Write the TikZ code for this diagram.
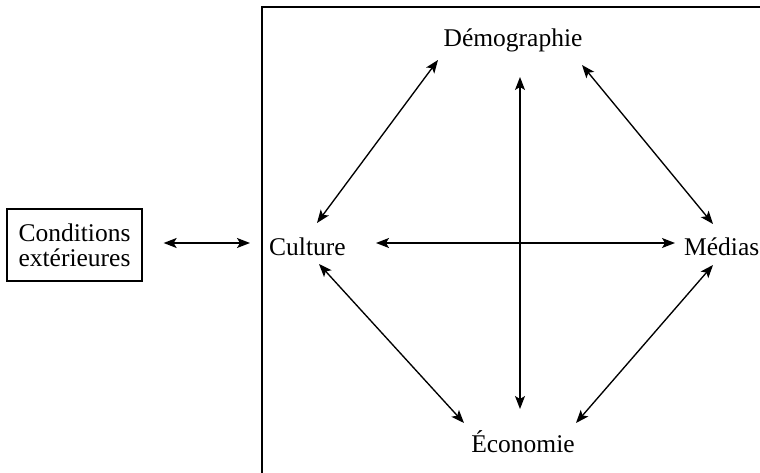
\documentclass[tikz,border=0pt]{standalone}
\usepackage{fontspec}
\setmainfont{Liberation Serif}
\usetikzlibrary{arrows.meta}
\begin{document}
\begin{tikzpicture}[x=1pt,y=-1pt,
  lbl/.style={inner sep=0pt,font=\fontsize{25.5}{25}\selectfont},
  arr/.style={line width=1.35pt,{Stealth[length=13pt,width=10pt,inset=3pt]}-{Stealth[length=13pt,width=10pt,inset=3pt]}},
  framebox/.style={line width=1.5pt}]
\useasboundingbox (0,0) rectangle (760,473);
\draw[framebox] (760,7) -- (262,7) -- (262,473);
\coordinate (frame) at (262,243);
\node[lbl,draw,line width=1.3pt,minimum width=135pt,minimum height=72pt,align=center] (cond) at (74.5,245) {Conditions\\extérieures};
\node[lbl,anchor=base west] (cul) at (269,255) {Culture};
\node[lbl,anchor=base west] (med) at (684,255) {Médias};
\node[lbl,anchor=base] (dem) at (513,47) {Démographie};
\node[lbl,anchor=base] (eco) at (523,452) {Économie};
\draw[arr] ([shift={(21,-2)}]cond.east) -- ([xshift=-12pt]frame);
\draw[arr] ([shift={(48,-32)}]cul.base west) -- ([shift={(-75,13)}]dem.base);
\draw[arr] ([shift={(50,9)}]cul.base west) -- ([shift={(-59,-29)}]eco.base);
\draw[arr] ([shift={(107,-12)}]cul.base west) -- ([shift={(-9,-12)}]med.base west);
\draw[arr] ([shift={(7,30)}]dem.base) -- ([shift={(-3,-43)}]eco.base);
\draw[arr] ([shift={(69,18)}]dem.base) -- ([shift={(29,-31)}]med.base west);
\draw[arr] ([shift={(53,-29)}]eco.base) -- ([shift={(29,10)}]med.base west);
\end{tikzpicture}
\end{document}
